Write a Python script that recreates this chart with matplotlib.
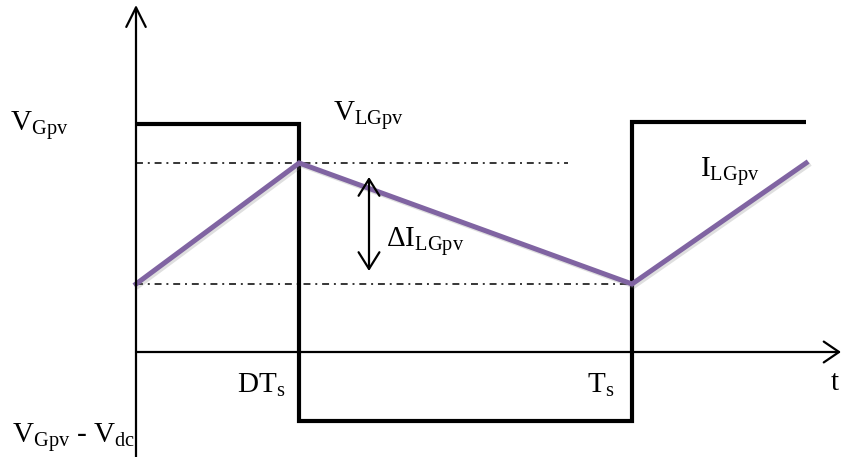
import matplotlib
matplotlib.use("Agg")
import matplotlib.pyplot as plt
import matplotlib.patheffects as pe

plt.rcParams['mathtext.fontset'] = 'custom'
plt.rcParams['mathtext.rm'] = 'Liberation Serif'
plt.rcParams['mathtext.it'] = 'Liberation Serif:italic'
plt.rcParams['mathtext.bf'] = 'Liberation Serif:bold'
plt.rcParams['font.family'] = ['Liberation Serif', 'DejaVu Serif']
plt.rcParams['lines.scale_dashes'] = False

# ---- data (time in units of Ts, amplitude in arbitrary units) ----
t_voltage = [0.0, 0.329, 0.329, 1.0, 1.0, 1.351]
v_voltage = [228, 228, -69, -69, 230, 230]

t_current = [0.0, 0.329, 1.0, 1.351]
i_current = [68, 189, 68, 189]

i_max_line_t = [0.0, 0.871]
i_max_line = [189, 189]
i_min_line_t = [0.0, 1.0]
i_min_line = [68, 68]

tick_labels = [r'$\mathrm{DT}_{\mathrm{s}}$', r'$\mathrm{T}_{\mathrm{s}}$']
tick_times = [0.204, 0.91]

# ---- figure: full-canvas axes, mapping from canvas pixels ----
W, H = 842, 457
ORIGIN_X, ORIGIN_Y, TS_PX = 136, 352, 496

def X(px):
    return (px - ORIGIN_X) / TS_PX

def Y(py):
    return ORIGIN_Y - py

fig = plt.figure(figsize=(W / 100, H / 100), dpi=100)
ax = fig.add_axes([0, 0, 1, 1])
ax.set_xlim(X(0), X(W))
ax.set_ylim(Y(H), Y(0))
ax.axis('off')

# axes arrows
ax.annotate('', xy=(0, Y(5)), xytext=(0, Y(H + 5)),
            arrowprops=dict(arrowstyle='->,head_length=14,head_width=7',
                            mutation_scale=1, lw=1.6, color='black',
                            shrinkA=0, shrinkB=0))
ax.annotate('', xy=(X(841), 0), xytext=(0, 0),
            arrowprops=dict(arrowstyle='->,head_length=11,head_width=7.5',
                            mutation_scale=1, lw=1.6, color='black',
                            shrinkA=0, shrinkB=0))

# dash-dot reference lines
dd = (0, (5, 3.5, 1.4, 3.5))
ax.plot(i_max_line_t, i_max_line, color='black', lw=1.1, linestyle=dd)
ax.plot(i_min_line_t, i_min_line, color='black', lw=1.1, linestyle=dd)

# voltage waveform
ax.plot(t_voltage, v_voltage, color='black', lw=3.0, solid_joinstyle='miter',
        solid_capstyle='butt')

# current waveform
ax.plot(t_current, i_current, color='#8064A2', lw=3.6, solid_joinstyle='miter',
        path_effects=[pe.SimpleLineShadow(offset=(1.5, -1.5), shadow_color='gray', alpha=0.25),
                      pe.Normal()])

# delta I double arrow
ax.annotate('', xy=(X(369), Y(177)), xytext=(X(369), Y(271)),
            arrowprops=dict(arrowstyle='<->,head_length=12,head_width=7.5',
                            mutation_scale=1, lw=1.6, color='black',
                            shrinkA=0, shrinkB=0))

fs = 21
txt = dict(fontsize=fs, ha='left', va='baseline', color='black')
ax.text(X(10), Y(131), r'$\mathrm{V}_{\mathrm{Gpv}}$', **txt)
ax.text(X(333), Y(121), r'$\mathrm{V}_{\mathrm{LGpv}}$', **txt)
ax.text(X(386), Y(247), r'$\mathrm{\Delta I}_{\mathrm{LGpv}}$', **txt)
ax.text(X(700), Y(177), r'$\mathrm{I}_{\mathrm{LGpv}}$', **txt)
for lab, tt in zip(tick_labels, tick_times):
    ax.text(tt, Y(393), lab, **txt)
ax.text(X(12), Y(443), r'$\mathrm{V}_{\mathrm{Gpv}}\text{ - }\mathrm{V}_{\mathrm{dc}}$', **txt)
ax.text(X(831), Y(390), 't', **txt)

fig.savefig('out.png', dpi=100, facecolor='white')
